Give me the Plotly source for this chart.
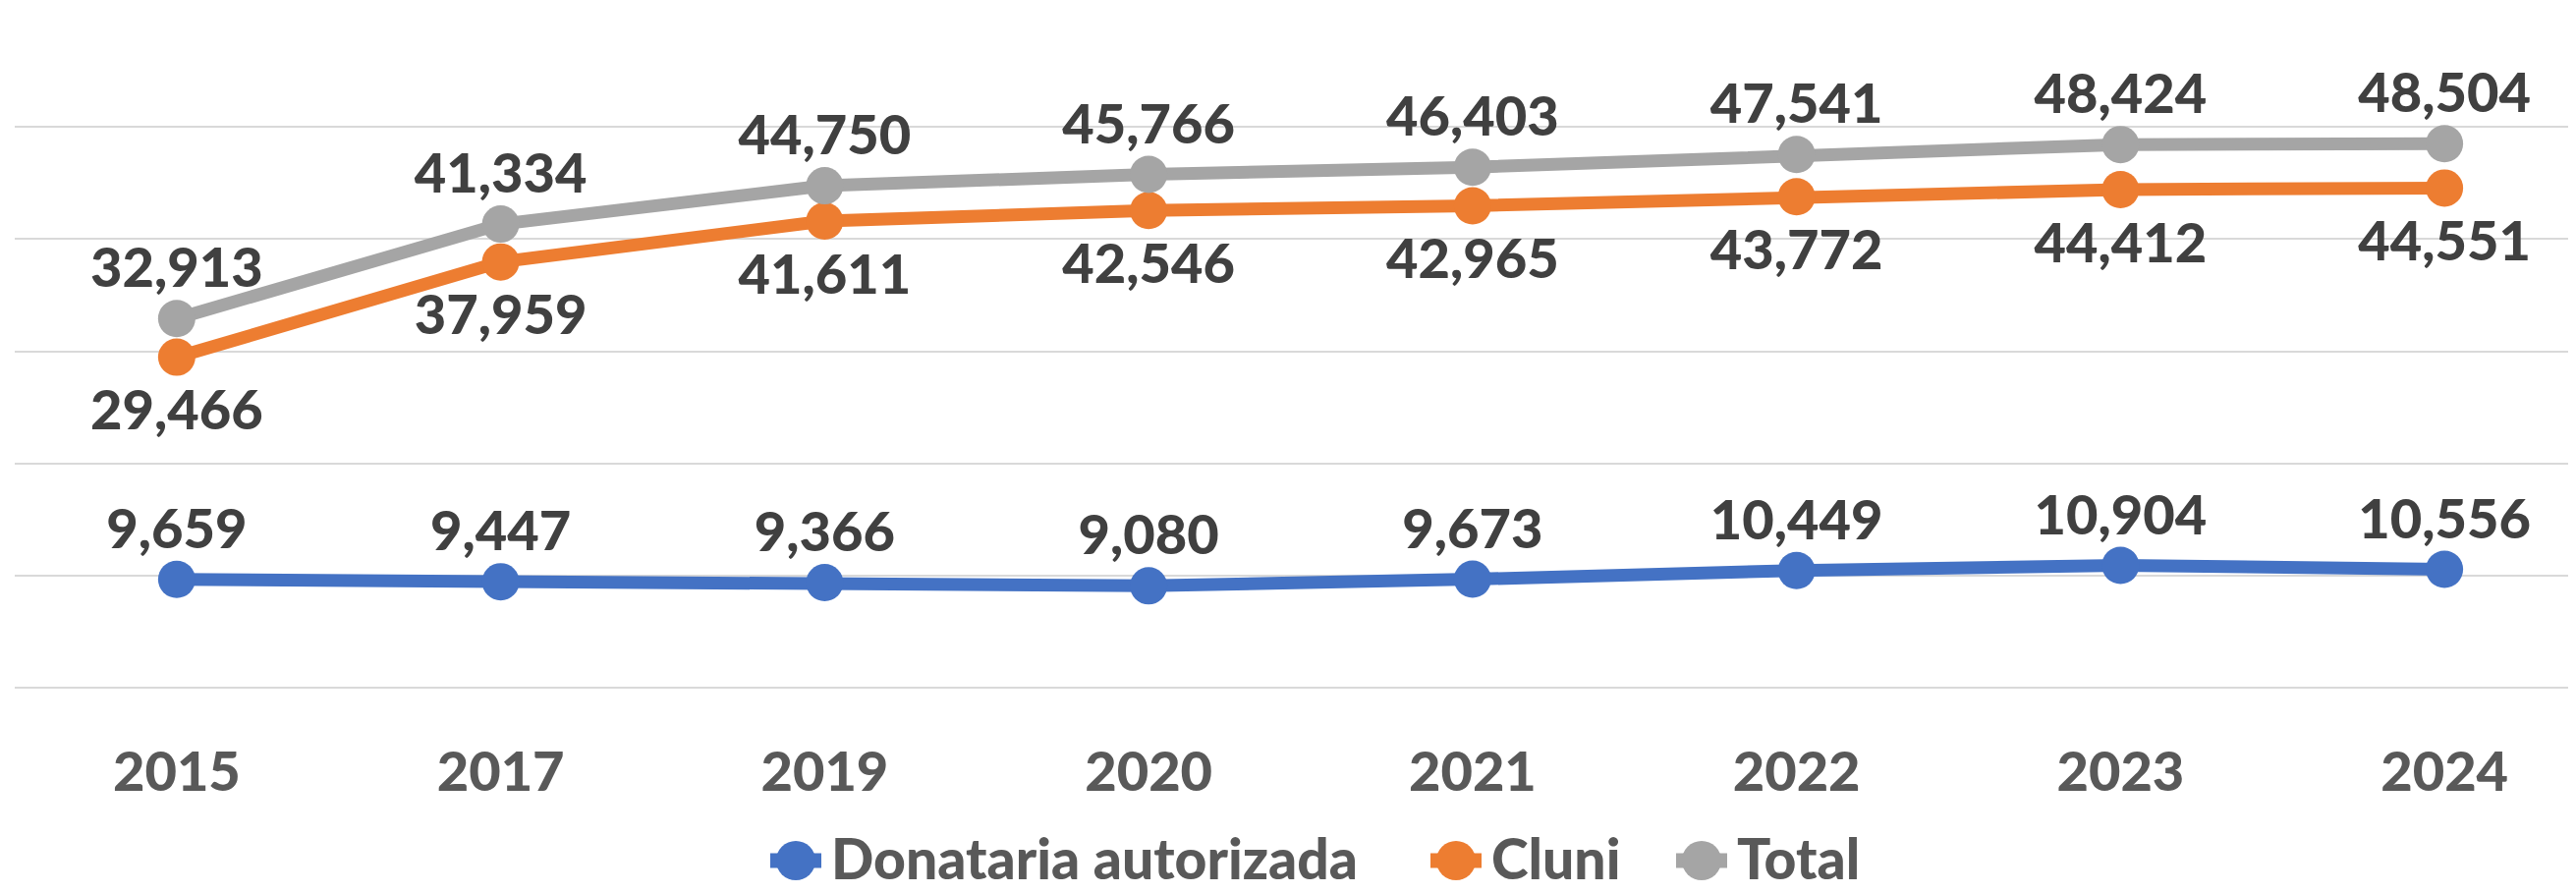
import plotly.graph_objects as go

years = ["2015", "2017", "2019", "2020", "2021", "2022", "2023", "2024"]
donataria = [9659, 9447, 9366, 9080, 9673, 10449, 10904, 10556]
cluni = [29466, 37959, 41611, 42546, 42965, 43772, 44412, 44551]
total = [32913, 41334, 44750, 45766, 46403, 47541, 48424, 48504]

series_names = ["Donataria autorizada", "Cluni", "Total"]
series_values = [donataria, cluni, total]
series_colors = ["#4472C4", "#ED7D31", "#A5A5A5"]
label_positions = ["top center", "bottom center", "top center"]

FONT = "Lato"
LABEL_COLOR = "#404040"
AXIS_COLOR = "#595959"
FS = 56
WEIGHT = 900

# page body has an 8px margin; plot area in window pixels
PL, PR, PT, PB = 15, 2622, 15, 700
FIG_W, FIG_H = 2614, 901


def px(wx):
    return (wx - PL) / (PR - PL)


def py(wy):
    return (PB - wy) / (PB - PT)


fig = go.Figure()
for name, vals, color, pos in zip(series_names, series_values, series_colors, label_positions):
    fig.add_trace(go.Scatter(
        x=years, y=vals, name=name, mode="lines+markers",
        line=dict(color=color, width=13),
        marker=dict(color=color, size=38),
        cliponaxis=False, showlegend=False,
    ))
    # labels: invisible markers tune the text offset from the point
    fig.add_trace(go.Scatter(
        x=years, y=vals, name=name, mode="markers+text",
        marker=dict(color="rgba(0,0,0,0)", size=27 if pos.startswith("top") else 49),
        texttemplate="%{y:,}", textposition=pos,
        textfont=dict(family=FONT, size=FS, color=LABEL_COLOR, weight=WEIGHT),
        cliponaxis=False, showlegend=False, hoverinfo="skip",
    ))

# custom legend (window pixel positions of each entry's symbol start)
legend_x0 = [778, 1450, 1700]
LEG_Y = 876
shapes = []
annotations = []
for name, color, x0 in zip(series_names, series_colors, legend_x0):
    shapes.append(dict(type="line", xref="paper", yref="paper",
                       x0=px(x0 + 6), x1=px(x0 + 58), y0=py(LEG_Y), y1=py(LEG_Y),
                       line=dict(color=color, width=15)))
    shapes.append(dict(type="circle", xref="paper", yref="paper",
                       xsizemode="pixel", ysizemode="pixel",
                       xanchor=px(x0 + 32), yanchor=py(LEG_Y),
                       x0=-20, x1=20, y0=-20, y1=20,
                       fillcolor=color, line=dict(width=0)))
    annotations.append(dict(xref="paper", yref="paper", x=px(x0 + 66), y=py(873),
                            xanchor="left", yanchor="middle", showarrow=False, text=name,
                            font=dict(family=FONT, size=57, color=AXIS_COLOR, weight=WEIGHT)))

fig.update_layout(
    width=FIG_W, height=FIG_H,
    margin=dict(l=PL - 8, r=0, t=PT - 8, b=FIG_H - (PB - 8), pad=0, autoexpand=False),
    paper_bgcolor="white", plot_bgcolor="white",
    showlegend=False,
    shapes=shapes, annotations=annotations,
    xaxis=dict(type="category", range=[-0.5, 7.406], showgrid=False, zeroline=False,
               showline=False, ticks="", ticklabelstandoff=48,
               tickfont=dict(family=FONT, size=FS, color=AXIS_COLOR, weight=WEIGHT)),
    yaxis=dict(range=[0, 60000], dtick=10000, showticklabels=False, showgrid=True,
               gridcolor="#d9d9d9", gridwidth=2, zeroline=True, zerolinecolor="#d9d9d9",
               zerolinewidth=2, showline=False),
)

fig.write_html("out.html")
